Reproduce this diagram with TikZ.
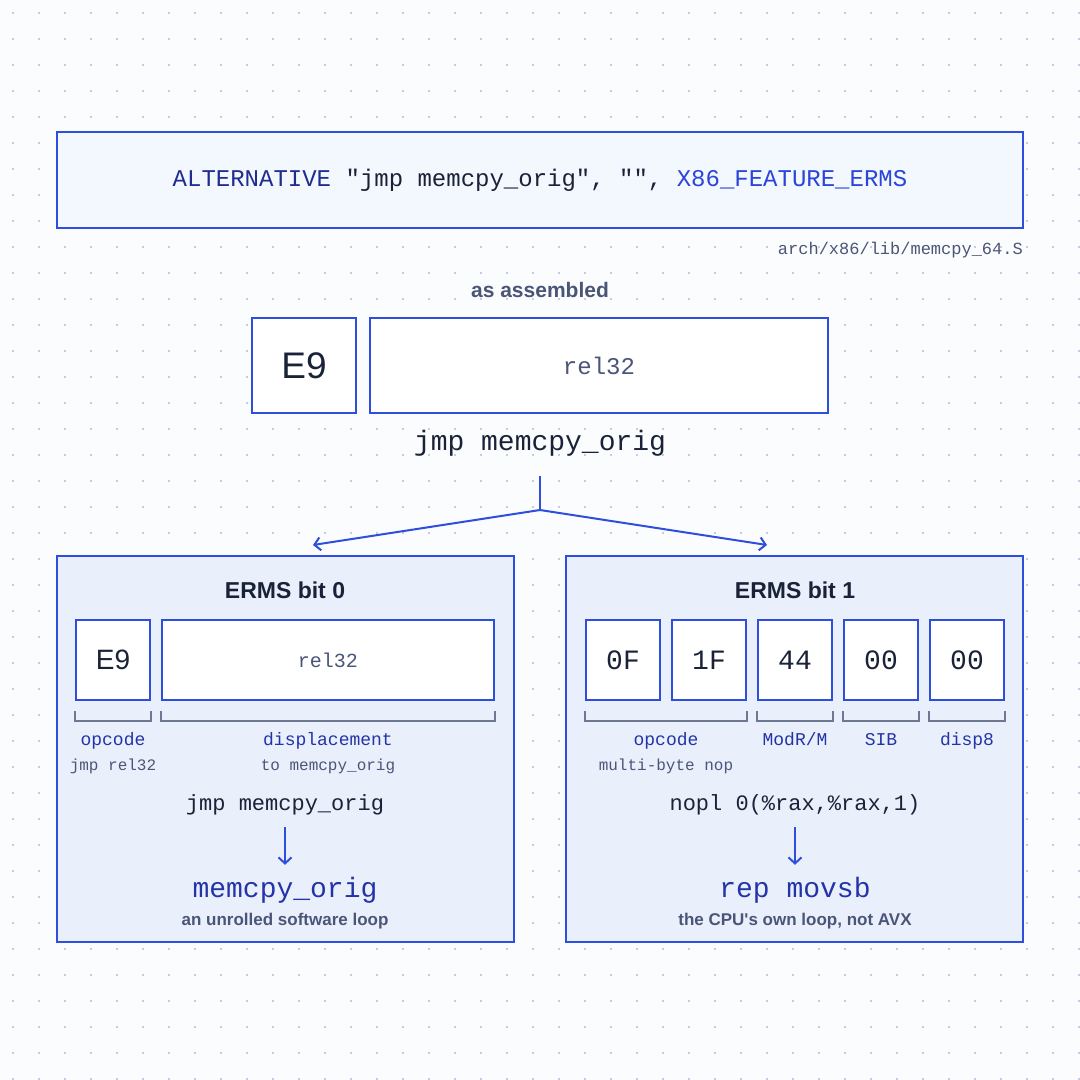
\documentclass[tikz,border=0pt]{standalone}
\usepackage{fontspec}
\setmainfont{Liberation Sans}[Ligatures=TeXOff]
\setmonofont{Liberation Mono}
\usetikzlibrary{arrows.meta,positioning}
\definecolor{bgpage}{HTML}{FBFCFE}
\definecolor{griddot}{HTML}{C9CDDB}
\definecolor{edgeblue}{HTML}{2E4FDD}
\definecolor{panelfill}{HTML}{E9F0FC}
\definecolor{topfill}{HTML}{F3F7FE}
\definecolor{inkdark}{HTML}{1A2238}
\definecolor{inkgray}{HTML}{4B5577}
\definecolor{labelblue}{HTML}{2434A8}
\definecolor{navy}{HTML}{1F2D8F}
\definecolor{brightblue}{HTML}{2A45D8}
\definecolor{brackgray}{HTML}{6E7893}
\newcommand{\fsz}[1]{\fontsize{#1}{#1}\selectfont}
\newcommand{\fieldbracket}[2]{\draw[fieldline] ([yshift=-10pt]#1.south west) -- ++(0,-10pt) -| ([yshift=-10pt]#2.south east);}

\begin{document}
\begin{tikzpicture}[x=1pt,y=-1pt,inner sep=0pt,
	bytebox/.style={draw=edgeblue,line width=2pt,fill=white,minimum height=80pt,minimum width=74pt},
	panel/.style={draw=edgeblue,line width=1.6pt,fill=panelfill,minimum width=457pt,minimum height=386pt},
	fieldline/.style={draw=brackgray,line width=2pt},
	flow/.style={draw=edgeblue,line width=2pt,-{Straight Barb[length=6pt,width=13pt]}},
	heading/.style={text=inkdark,font=\fsz{23}\bfseries},
	note/.style={text=inkgray,font=\fsz{17}\bfseries},
	field/.style={text=labelblue,font=\fsz{18}\ttfamily,text height=0.75em,text depth=0.22em},
	sub/.style={text=inkgray,font=\fsz{16}\ttfamily,text height=0.75em,text depth=0.22em},
	code/.style={text=inkdark,font=\fsz{22}\ttfamily,text height=0.75em,text depth=0.22em}]
	\useasboundingbox[fill=bgpage] (0,0) rectangle (1080,1080);
	\foreach \i in {0,...,41}{\foreach \j in {0,...,41}{\fill[griddot] (12+26*\i,12+26*\j) rectangle ++(2,2);}}

	% source line
	\node (macro) [draw=edgeblue,line width=2pt,fill=topfill,minimum width=966pt,minimum height=96pt,text=inkdark,font=\fsz{24}\ttfamily] at (540,180)
		{\textcolor{navy}{ALTERNATIVE} "jmp memcpy\_orig", "", \textcolor{brightblue}{X86\_FEATURE\_ERMS}};
	\node (srcpath) [anchor=east,text=inkgray,font=\fsz{17}\ttfamily] at (1023,250) {arch/x86/lib/memcpy\_64.S};

	% as assembled
	\node (asm) [text=inkgray,font=\fsz{21}\bfseries] at (540,290) {as assembled};
	\node (opA) [bytebox,minimum width=104pt,minimum height=95pt,text=inkdark,font=\fsz{37}] at (304,365.5) {E9};
	\node (relA) [bytebox,minimum width=458pt,minimum height=95pt,text=inkgray,font=\fsz{24}\ttfamily] at (599,365.5) {rel32};
	\node (jmpA) [text=inkdark,font=\fsz{28}\ttfamily] at (540,443) {jmp memcpy\_orig};

	\coordinate (stem) at (540,476);
	\coordinate (fork) at (540,510);
	\coordinate (inleft) at (313,545);
	\coordinate (inright) at (767,545);
	\draw[edgeblue,line width=2pt] (stem) -- (fork);
	\draw[flow] (fork) -- (inleft);
	\draw[flow] (fork) -- (inright);

	% bit 0
	\node (panelleft) [panel] at (285.5,749) {};
	\node (headleft) [heading] at (285,590) {ERMS bit 0};
	\node (opB) [bytebox,text=inkdark,font=\fsz{28}] at (113,660) {E9};
	\node (relB) [bytebox,minimum width=332pt,text=inkgray,font=\fsz{20}\ttfamily] at (328,660) {rel32};
	\fieldbracket{opB}{opB}
	\fieldbracket{relB}{relB}
	\node (opBlabel) [field] at (113,743) {opcode};
	\node (opBsub) [sub] at (113,768) {jmp rel32};
	\node (relBlabel) [field] at (328,743) {displacement};
	\node (relBsub) [sub] at (328,768) {to memcpy\_orig};
	\node (jmpB) [code] at (285,808) {jmp memcpy\_orig};
	\node (loopB) [text=labelblue,font=\fsz{28}\ttfamily] at (285,890) {memcpy\_orig};
	\node (noteB) [note] at (285,921) {an unrolled software loop};
	\draw[flow,shorten <=14pt,shorten >=12pt] (jmpB.south) -- (loopB.north);

	% bit 1
	\node (panelright) [panel] at (794.5,749) {};
	\node (headright) [heading] at (795,590) {ERMS bit 1};
	\foreach \x/\b/\name in {623/0F/nA,709/1F/nB,795/44/nC,881/00/nD,967/00/nE}
		\node (\name) [bytebox,text=inkdark,font=\fsz{28}\ttfamily] at (\x,660) {\b};
	\fieldbracket{nA}{nB}
	\fieldbracket{nC}{nC}
	\fieldbracket{nD}{nD}
	\fieldbracket{nE}{nE}
	\node (nopcode) [field] at (666,743) {opcode};
	\node (nopsub) [sub] at (666,768) {multi-byte nop};
	\node (modrm) [field] at (795,743) {ModR/M};
	\node (sib) [field] at (881,743) {SIB};
	\node (disp) [field] at (967,743) {disp8};
	\node (nopl) [code] at (795,808) {nopl 0(\%rax,\%rax,1)};
	\node (movsb) [text=labelblue,font=\fsz{28}\ttfamily] at (795,890) {rep movsb};
	\node (noteC) [note] at (795,921) {the CPU's own loop, not AVX};
	\draw[flow,shorten <=14pt,shorten >=12pt] (nopl.south) -- (movsb.north);
\end{tikzpicture}
\end{document}
